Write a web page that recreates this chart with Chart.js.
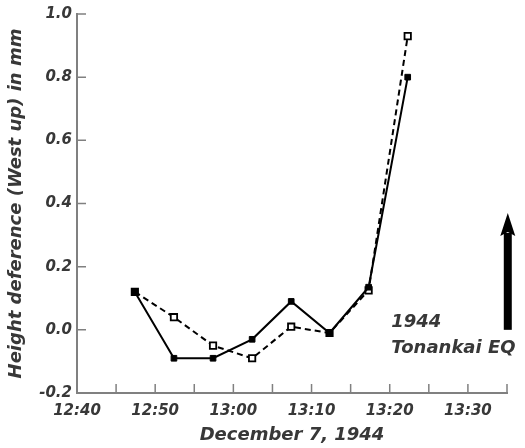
<!DOCTYPE html>
<html>
<head>
<meta charset="utf-8">
<script src="https://cdn.jsdelivr.net/npm/chart.js@4.4.1/dist/chart.umd.min.js"></script>
<style>
  html, body { margin: 0; padding: 0; background: #fff; }
  #wrap { width: 525px; height: 448px; position: relative; }
</style>
</head>
<body>
<div id="wrap"><canvas id="c"></canvas></div>
<script>
// minutes after 12:40 on December 7, 1944
var times      = [7.4, 12.4, 17.4, 22.4, 27.4, 32.3, 37.3, 42.3];
var solidVals  = [0.12, -0.09, -0.09, -0.03, 0.09, -0.01, 0.135, 0.80];
var dashedVals = [0.12, 0.04, -0.05, -0.09, 0.01, -0.01, 0.125, 0.93];
var yTicks = [-0.2, 0.0, 0.2, 0.4, 0.6, 0.8, 1.0];
var xTicks = [0, 10, 20, 30, 40, 50];   // 12:40 ... 13:30
var xMinor = [0, 5, 10, 15, 20, 25, 30, 35, 40, 45, 50, 55];

var FONT = "'DejaVu Sans', sans-serif";
var AXIS = "#808080";
var TEXT = "#383838";

function pts(vals) {
  return times.map(function(t, i) { return { x: t, y: vals[i] }; });
}

function clock(m) {
  var total = 12 * 60 + 40 + m;
  var h = Math.floor(total / 60), mm = total % 60;
  return h + ":" + (mm < 10 ? "0" : "") + mm;
}

// inward tick marks, annotation text and the earthquake arrow
var decor = {
  id: "decor",
  afterDraw: function(chart) {
    var ctx = chart.ctx, x = chart.scales.x, y = chart.scales.y;
    var area = chart.chartArea;
    ctx.save();
    ctx.strokeStyle = AXIS;
    ctx.lineWidth = 1.5;
    ctx.beginPath();
    xMinor.forEach(function(v) {
      var px = x.getPixelForValue(v);
      if (v === 0) return;
      ctx.moveTo(px, area.bottom);
      ctx.lineTo(px, area.bottom - 9);
    });
    yTicks.forEach(function(v) {
      var py = y.getPixelForValue(v);
      if (v === -0.2) return;
      ctx.moveTo(area.left, py);
      ctx.lineTo(area.left + 9, py);
    });
    ctx.stroke();

    ctx.fillStyle = TEXT;
    ctx.font = "italic bold 18px " + FONT;
    ctx.textAlign = "left";
    ctx.textBaseline = "alphabetic";
    var tx = x.getPixelForValue(40.2);
    ctx.fillText("1944", tx, y.getPixelForValue(0.01));
    ctx.fillText("Tonankai EQ", tx, y.getPixelForValue(-0.073));

    var ax = x.getPixelForValue(55.1);
    var yb = y.getPixelForValue(0.0);
    var yt = y.getPixelForValue(0.37);
    ctx.fillStyle = "#000";
    ctx.fillRect(ax - 4, yt + 20, 8, yb - yt - 20);
    ctx.beginPath();
    ctx.moveTo(ax, yt);
    ctx.lineTo(ax - 7.5, yt + 23);
    ctx.lineTo(ax, yt + 19);
    ctx.lineTo(ax + 7.5, yt + 23);
    ctx.closePath();
    ctx.fill();
    ctx.restore();
  }
};

new Chart(document.getElementById("c"), {
  type: "scatter",
  data: {
    datasets: [
      {
        data: pts(solidVals),
        showLine: true,
        borderColor: "#000",
        borderWidth: 2,
        pointStyle: "rect",
        pointRadius: 4,
        pointBackgroundColor: "#000",
        pointBorderColor: "#000",
        pointBorderWidth: 1,
      },
      {
        data: pts(dashedVals),
        showLine: true,
        borderColor: "#000",
        borderWidth: 2,
        borderDash: [6, 4],
        pointStyle: "rect",
        pointRadius: 4.5,
        pointBackgroundColor: "#fff",
        pointBorderColor: "#000",
        pointBorderWidth: 1.8,
      }
    ]
  },
  options: {
    responsive: true,
    maintainAspectRatio: false,
    animation: false,
    layout: { padding: { top: 13, right: 18, left: 0, bottom: 0 } },
    plugins: { legend: { display: false }, tooltip: { enabled: false } },
    scales: {
      x: {
        type: "linear",
        min: 0,
        max: 55,
        afterBuildTicks: function(s) {
          s.ticks = xTicks.map(function(v) { return { value: v }; });
        },
        afterFit: function(s) { s.height = 55; },
        ticks: {
          autoSkip: false,
          maxRotation: 0,
          padding: 9,
          color: TEXT,
          font: { family: FONT, size: 15, style: "italic", weight: "bold" },
          callback: function(v) { return clock(v); }
        },
        grid: { display: false, drawTicks: false },
        border: { display: true, color: AXIS, width: 2 },
        title: {
          display: true,
          text: "December 7, 1944",
          color: TEXT,
          padding: { top: 0, bottom: 2 },
          font: { family: FONT, size: 18, style: "italic", weight: "bold" }
        }
      },
      y: {
        min: -0.2,
        max: 1.0,
        afterBuildTicks: function(s) {
          s.ticks = yTicks.map(function(v) { return { value: v }; });
        },
        afterFit: function(s) { s.width = 77; },
        ticks: {
          padding: 5,
          color: TEXT,
          font: { family: FONT, size: 15, style: "italic", weight: "bold" },
          callback: function(v) { return v.toFixed(1); }
        },
        grid: { display: false, drawTicks: false },
        border: { display: true, color: AXIS, width: 2 },
        title: {
          display: true,
          text: "Height deference (West up) in mm",
          color: TEXT,
          padding: { top: 6, bottom: 2 },
          font: { family: FONT, size: 18, style: "italic", weight: "bold" }
        }
      }
    }
  },
  plugins: [decor]
});
</script>
</body>
</html>
